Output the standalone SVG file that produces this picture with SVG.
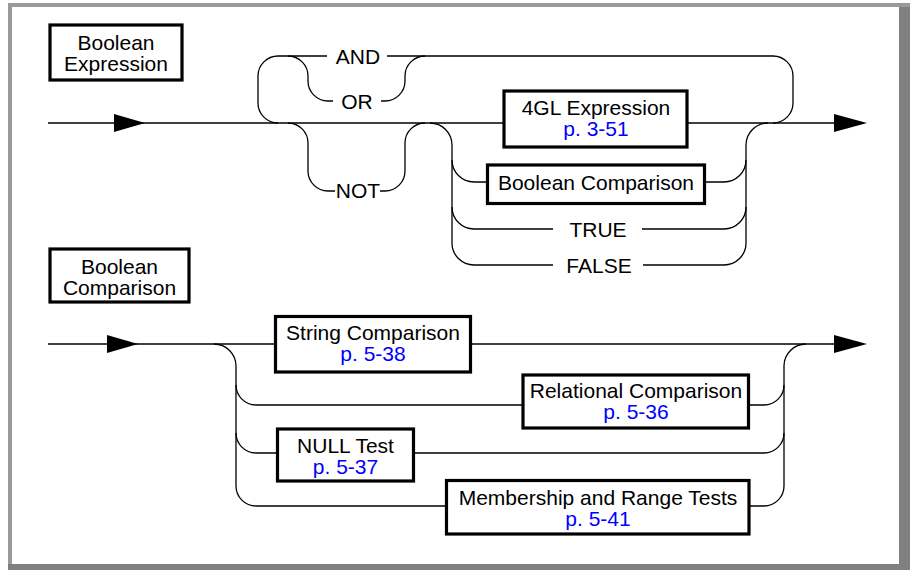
<svg xmlns="http://www.w3.org/2000/svg" width="910" height="570" viewBox="0 0 910 570">
<style>
.ln{fill:none;stroke:#000;stroke-width:1.3}
.bx{fill:#fff;stroke:#000;stroke-width:3.2}
.ar{fill:#000}
text{font-family:"Liberation Sans",Arial,Helvetica,sans-serif;font-size:21px;fill:#000;text-anchor:middle}
text.ref{fill:#0000ff}
</style>
<rect x="0" y="0" width="910" height="570" fill="#fff"/>
<g id="frame">
<rect x="8" y="3" width="902" height="4" fill="#9a9a9a"/>
<rect x="8" y="3" width="4" height="562" fill="#9a9a9a"/>
<rect x="899" y="7" width="11" height="563" fill="#808080"/>
<rect x="8" y="564" width="902" height="6" fill="#808080"/>
</g>
<g id="connectors">
<!-- top diagram -->
<path class="ln" d="M48,123 H504"/>
<path class="ln" d="M687,123 H834"/>
<path class="ln" d="M278,123 A20,20 0 0 1 258,103 V76 A20,20 0 0 1 278,56 H327"/>
<path class="ln" d="M387,56 H773 A20,20 0 0 1 793,76 V103 A20,20 0 0 1 773,123"/>
<path class="ln" d="M288,56 A20,20 0 0 1 308,76 V81 A20,20 0 0 0 328,101 H333"/>
<path class="ln" d="M381,101 H385 A20,20 0 0 0 405,81 V76 A20,20 0 0 1 425,56"/>
<path class="ln" d="M288,123 A20,20 0 0 1 308,143 V171 A20,20 0 0 0 328,191 H335"/>
<path class="ln" d="M380,191 H385 A20,20 0 0 0 405,171 V143 A20,20 0 0 1 425,123"/>
<path class="ln" d="M430,123 A22,22 0 0 1 452,145 V243 A22,22 0 0 0 474,265 H553"/>
<path class="ln" d="M452,160 A22,22 0 0 0 474,182 H487"/>
<path class="ln" d="M705,182 H724 A22,22 0 0 0 746,160"/>
<path class="ln" d="M452,207 A22,22 0 0 0 474,229 H553"/>
<path class="ln" d="M642,229 H724 A22,22 0 0 0 746,207"/>
<path class="ln" d="M643,265 H724 A22,22 0 0 0 746,243 V145 A22,22 0 0 1 768,123"/>
<polygon class="ar" points="114,114 145,123 114,132"/>
<polygon class="ar" points="834,114 867,123 834,132"/>
<!-- bottom diagram -->
<path class="ln" d="M48,344 H276"/>
<path class="ln" d="M471,344 H834"/>
<path class="ln" d="M214,344 A22,22 0 0 1 236,366 V486 A20,20 0 0 0 256,506 H447"/>
<path class="ln" d="M236,385 A20,20 0 0 0 256,405 H524"/>
<path class="ln" d="M236,433 A20,20 0 0 0 256,453 H278"/>
<path class="ln" d="M748,405 H764 A20,20 0 0 0 784,385"/>
<path class="ln" d="M413,453 H764 A20,20 0 0 0 784,433"/>
<path class="ln" d="M749,506 H764 A20,20 0 0 0 784,486 V366 A22,22 0 0 1 806,344"/>
<polygon class="ar" points="107,335 138,344 107,353"/>
<polygon class="ar" points="834,335 867,344 834,353"/>
</g>
<g id="title-expression">
<rect class="bx" x="50" y="25" width="132" height="55"/>
<text x="116" y="49.5">Boolean</text>
<text x="116" y="70.5">Expression</text>
</g>
<g id="kw-and"><text x="358" y="63.5">AND</text></g>
<g id="kw-or"><text x="357" y="108.5">OR</text></g>
<g id="kw-not"><text x="358" y="198">NOT</text></g>
<g id="node-4gl">
<rect class="bx" x="504" y="91" width="183" height="56"/>
<text x="596" y="115">4GL Expression</text>
<text class="ref" x="596" y="136">p. 3-51</text>
</g>
<g id="node-boolcomp">
<rect class="bx" x="487.5" y="165" width="217" height="38.5"/>
<text x="596" y="190">Boolean Comparison</text>
</g>
<g id="kw-true"><text x="598" y="237">TRUE</text></g>
<g id="kw-false"><text x="599" y="273">FALSE</text></g>
<g id="title-comparison">
<rect class="bx" x="50" y="249" width="139" height="53"/>
<text x="119.5" y="273.5">Boolean</text>
<text x="119.5" y="294.5">Comparison</text>
</g>
<g id="node-string">
<rect class="bx" x="275.5" y="316.5" width="195" height="55.5"/>
<text x="373" y="340">String Comparison</text>
<text class="ref" x="373" y="361">p. 5-38</text>
</g>
<g id="node-relational">
<rect class="bx" x="523" y="375" width="225.5" height="53"/>
<text x="636" y="397.5">Relational Comparison</text>
<text class="ref" x="636" y="419">p. 5-36</text>
</g>
<g id="node-null">
<rect class="bx" x="277.5" y="429" width="136" height="52"/>
<text x="345.5" y="452.5">NULL Test</text>
<text class="ref" x="345.5" y="473.5">p. 5-37</text>
</g>
<g id="node-membership">
<rect class="bx" x="446.5" y="480.5" width="302.5" height="53.5"/>
<text x="598" y="505">Membership and Range Tests</text>
<text class="ref" x="598" y="526">p. 5-41</text>
</g>
</svg>
